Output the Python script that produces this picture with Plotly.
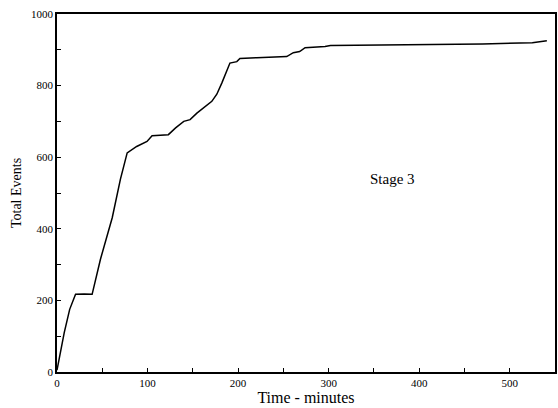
import plotly.graph_objects as go

time_min = [0, 1.6, 8, 14, 20.5, 30, 38.8, 48, 61, 70, 77.5, 88, 99.4, 105, 123, 131, 140, 147,
            154.5, 171, 176.5, 182, 187.5, 191, 198.6, 202, 220.6, 253.7, 261, 268, 274, 296,
            302, 397, 470, 525, 541]
total_events = [5, 28, 110, 175, 217, 218, 217, 315, 431, 538, 612, 630, 644, 660, 663, 682, 700, 705,
                723, 756, 776, 807, 844, 863, 867, 876, 878, 881, 892, 895, 906, 909,
                912, 914, 916, 920, 925]

x_ticks = [0, 100, 200, 300, 400, 500]
y_ticks = [0, 200, 400, 600, 800, 1000]

SERIF = "Times New Roman, Liberation Serif, DejaVu Serif, serif"

fig = go.Figure()
fig.add_trace(go.Scatter(x=time_min, y=total_events, mode="lines",
                         line=dict(color="black", width=1.5), showlegend=False))

fig.add_annotation(x=371, y=538, text="Stage 3", showarrow=False,
                   font=dict(family=SERIF, size=15, color="black"))

axis_common = dict(showgrid=False, zeroline=False, showline=True, linecolor="black",
                   linewidth=1.5, mirror=True, ticks="inside", ticklen=4, tickcolor="black",
                   automargin=False,
                   tickfont=dict(family=SERIF, size=11, color="black"))

fig.update_xaxes(range=[0, 550], tickvals=x_ticks, ticktext=[str(v) for v in x_ticks],
                 minor=dict(tickvals=[50, 150, 250, 350, 450], ticks="inside", ticklen=4,
                            tickcolor="black"),
                 title=dict(text="Time - minutes", standoff=2,
                            font=dict(family=SERIF, size=16, color="black")),
                 **axis_common)
fig.update_yaxes(range=[0, 1000], tickvals=y_ticks, ticktext=[str(v) for v in y_ticks],
                 minor=dict(tickvals=[100, 300, 500, 700, 900], ticks="inside", ticklen=4,
                            tickcolor="black"),
                 title=dict(text="Total Events", standoff=6,
                            font=dict(family=SERIF, size=14, color="black")),
                 **axis_common)

fig.update_layout(width=558, height=408, margin=dict(l=57, r=3, t=14, b=36),
                  plot_bgcolor="white", paper_bgcolor="white")

fig.write_html("out.html", config={"displayModeBar": False},
               post_script="document.body.style.margin='0';")
